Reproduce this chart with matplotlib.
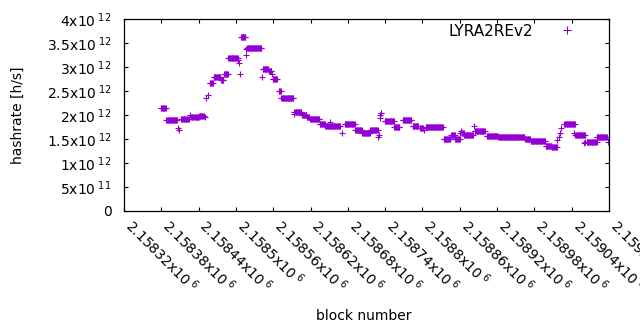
import numpy as np
import matplotlib
matplotlib.use("Agg")
import matplotlib.pyplot as plt

plt.rcParams['font.family'] = ['DejaVu Sans']
plt.rcParams['mathtext.fontset'] = 'dejavusans'
plt.rcParams['mathtext.default'] = 'regular'

series_name = "LYRA2REv2"
# runs of constant estimated hashrate: first block, last block, hashrate (x1e12 h/s)
run_start = [2158379, 2158388, 2158407, 2158409, 2158412, 2158426, 2158428, 2158434,
             2158441, 2158450, 2158452, 2158455, 2158458, 2158464, 2158476, 2158481,
             2158488, 2158504, 2158505, 2158506, 2158508, 2158516, 2158517, 2158518,
             2158542, 2158543, 2158553, 2158558, 2158559, 2158569, 2158573, 2158593,
             2158594, 2158606, 2158614, 2158619, 2158635, 2158644, 2158651, 2158670,
             2158675, 2158692, 2158703, 2158716, 2158729, 2158730, 2158731, 2158732,
             2158733, 2158739, 2158755, 2158768, 2158784, 2158796, 2158802, 2158805,
             2158834, 2158846, 2158853, 2158861, 2158862, 2158863, 2158867, 2158883,
             2158884, 2158903, 2158922, 2158965, 2158974, 2158998, 2159008, 2159017,
             2159019, 2159021, 2159023, 2159028, 2159043, 2159046, 2159060, 2159062,
             2159064, 2159080, 2159098]
run_end = [2158387, 2158405, 2158407, 2158409, 2158424, 2158426, 2158432, 2158440,
           2158448, 2158450, 2158452, 2158455, 2158463, 2158475, 2158480, 2158487,
           2158503, 2158504, 2158505, 2158506, 2158515, 2158516, 2158517, 2158541,
           2158542, 2158552, 2158557, 2158558, 2158566, 2158572, 2158592, 2158593,
           2158605, 2158613, 2158618, 2158634, 2158643, 2158667, 2158651, 2158670,
           2158691, 2158702, 2158715, 2158728, 2158729, 2158730, 2158731, 2158732,
           2158734, 2158754, 2158763, 2158782, 2158793, 2158801, 2158802, 2158833,
           2158845, 2158852, 2158860, 2158861, 2158862, 2158866, 2158881, 2158883,
           2158900, 2158921, 2158964, 2158973, 2158997, 2159007, 2159016, 2159017,
           2159019, 2159021, 2159023, 2159045, 2159043, 2159061, 2159060, 2159062,
           2159080, 2159096, 2159098]
run_value = [2.14, 1.90, 1.72, 1.69, 1.92, 2.00, 1.95, 1.96,
             1.985, 1.95, 2.35, 2.42, 2.66, 2.80, 2.73, 2.85,
             3.18, 3.15, 3.08, 2.85, 3.62, 3.25, 3.37, 3.39,
             2.80, 2.96, 2.92, 2.85, 2.75, 2.51, 2.35, 2.02,
             2.06, 2.00, 1.95, 1.92, 1.81, 1.77, 1.86, 1.62,
             1.81, 1.69, 1.62, 1.69, 1.55, 1.58, 1.93, 2.00,
             2.04, 1.875, 1.74, 1.90, 1.78, 1.72, 1.68, 1.74,
             1.51, 1.58, 1.51, 1.63, 1.67, 1.63, 1.58, 1.77,
             1.67, 1.56, 1.54, 1.49, 1.45, 1.35, 1.33, 1.48,
             1.55, 1.62, 1.72, 1.81, 1.63, 1.58, 1.41, 1.44,
             1.44, 1.55, 1.44]

x_ticks = [2158320 + 60 * i for i in range(14)]
y_ticks = [0, 0.5e12, 1e12, 1.5e12, 2e12, 2.5e12, 3e12, 3.5e12, 4e12]
y_tick_labels = ["0", "5x10$^{\\ 11}$", "1x10$^{\\ 12}$", "1.5x10$^{\\ 12}$", "2x10$^{\\ 12}$",
                 "2.5x10$^{\\ 12}$", "3x10$^{\\ 12}$", "3.5x10$^{\\ 12}$", "4x10$^{\\ 12}$"]

blocks = np.concatenate([np.arange(s, e + 1) for s, e in zip(run_start, run_end)])
values = np.concatenate([np.full(e - s + 1, v * 1e12) for s, e, v in zip(run_start, run_end, run_value)])

color = '#9400D3'
fs = 10
fig = plt.figure(figsize=(6.4, 3.3), dpi=100)
ax = fig.add_axes([124/640, 1 - 211/330, (609-124)/640, (211-19)/330])

ax.plot(blocks, values, linestyle='none', marker='+', markersize=5, markeredgewidth=0.8,
        color=color, label=series_name)

ax.set_xlim(2158320, 2159100)
ax.set_ylim(0, 4e12)
ax.set_xticks(x_ticks)
ax.set_xticklabels([f"{t/1e6:g}x10$^{{\\ 6}}$" for t in x_ticks], rotation=-45,
                   ha='left', va='baseline', rotation_mode='anchor')
ax.set_yticks(y_ticks)
ax.set_yticklabels(y_tick_labels)
ax.tick_params(direction='in', length=3, width=0.8, top=True, right=True, labelsize=fs,
               color='black')
ax.tick_params(axis='y', pad=9)
ax.tick_params(axis='x', pad=11.5)
for sp in ax.spines.values():
    sp.set_linewidth(0.9)

ax.set_xlabel("block number", fontsize=fs)
ax.xaxis.set_label_coords(0.494, -0.51)
ax.set_ylabel("hashrate [h/s]", fontsize=fs)
ax.yaxis.set_label_coords(-0.205, 0.5)

leg = ax.legend(loc='upper right', bbox_to_anchor=(0.9697, 1.0), frameon=False,
                markerfirst=False, numpoints=1, fontsize=11, handlelength=3.0,
                handletextpad=0.72, borderaxespad=0.0, borderpad=0.3)
for h in leg.legend_handles:
    h.set_markersize(6)

fig.savefig("out.png", dpi=100)
